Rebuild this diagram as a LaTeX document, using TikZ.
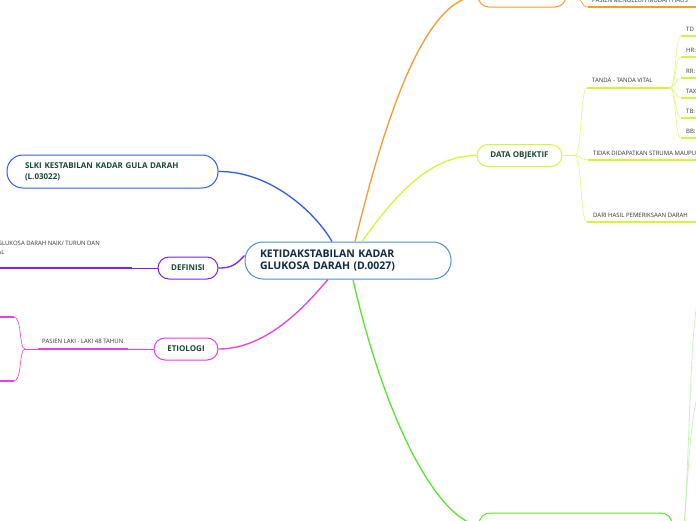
\documentclass[tikz,border=0pt]{standalone}
\usepackage{fontspec}
\setmainfont{Open Sans}
\definecolor{cblue}{HTML}{4A90D9}
\definecolor{navy}{HTML}{0F2A47}
\definecolor{txtgreen}{HTML}{17493A}
\definecolor{txtgrey}{HTML}{333333}
\definecolor{lblue}{HTML}{2F5BE8}
\definecolor{lpurple}{HTML}{7D1FF0}
\definecolor{lmag}{HTML}{EA3DE8}
\definecolor{lyel}{HTML}{D5F53A}
\definecolor{lyelsub}{HTML}{E2F87A}
\definecolor{lorange}{HTML}{F89A2C}
\definecolor{lgreen}{HTML}{58E62A}
\definecolor{lgreenpale}{HTML}{B5F5A5}
\tikzset{
  mainbox/.style={draw=#1, line width=1pt, rounded corners=11pt, fill=white,
    font=\fontsize{8}{11}\selectfont\bfseries, text=txtgreen, minimum height=22pt,
    inner xsep=0pt, inner ysep=0pt},
  conn/.style={draw=#1, line width=1.3pt},
  subl/.style={draw=#1, line width=0.6pt},
  under/.style={draw=#1, line width=2pt},
  small/.style={font=\fontsize{6}{8.4}\selectfont, text=txtgrey, inner sep=0pt, anchor=base west},
}
\begin{document}
\begin{tikzpicture}[x=1pt,y=-1pt]
\useasboundingbox (0,0) rectangle (696,520);
\clip (0,0) rectangle (696,520);
\fill[white] (0,0) rectangle (696,520);

% ---------- nodes ----------
\node[draw=cblue, line width=1pt, rounded corners=18pt, fill=white, minimum height=37pt,
  text width=176pt, inner xsep=15pt, inner ysep=0pt, align=left,
  font=\fontsize{10.5}{12.7}\selectfont\bfseries, text=navy] (c) at (348,260.5)
  {KETIDAKSTABILAN KADAR\\GLUKOSA DARAH (D.0027)};

\node[draw=lblue, line width=1pt, rounded corners=16pt, fill=white, minimum height=33pt,
  text width=175pt, inner xsep=18pt, inner ysep=0pt, align=left,
  font=\fontsize{8}{11}\selectfont\bfseries, text=txtgreen] (slki) at (112.5,171.5)
  {SLKI KESTABILAN KADAR GULA DARAH\\(L.03022)};

\node[mainbox=lpurple, minimum width=60pt] (def) at (188,268) {DEFINISI};
\node[mainbox=lmag, minimum width=64pt] (eti) at (186,349) {ETIOLOGI};
\node[mainbox=lyel, minimum width=85pt] (dobj) at (519.5,155.5) {DATA OBJEKTIF};
\node[mainbox=lorange, minimum width=88pt] (dsub) at (522,-4) {DATA SUBJEKTIF};
\node[mainbox=lgreen, minimum width=193pt, minimum height=26pt] (gbot) at (575.5,526) {};

% ---------- main connectors ----------
\draw[conn=lblue] (slki.east) .. controls (270,171) and (315,212) .. ([xshift=-16pt]c.north);
\draw[conn=lorange] ([xshift=7pt]c.north) .. controls (380,140) and (420,-2) .. (dsub.west);
\draw[conn=lyel] ([xshift=14pt]c.north) .. controls (395,195) and (430,155.5) .. (dobj.west);
\draw[conn=lpurple] (def.east) .. controls (230,268) and (235,266) .. ([yshift=5pt]c.west);
\draw[conn=lmag] (eti.east) .. controls (270,349) and (310,300) .. ([xshift=-20pt]c.south);
\draw[conn=lgreen] ([xshift=5pt]c.south) .. controls (380,400) and (430,515) .. (gbot.west);

% ---------- DATA SUBJEKTIF branch ----------
\coordinate (os) at (588,7);
\draw[subl=lorange] (dsub.east) -- (575,-4) .. controls (581,-4) and (581,7) .. (os);
\draw[under=lorange] (os) -- (700,7);
\node[small] (os1) at (592,2) {PASIEN MENGELUH MUDAH HAUS};

% ---------- DATA OBJEKTIF branch ----------
\coordinate (ob) at (575,155.5);
\coordinate (tv) at (587,88);
\coordinate (tvend) at (670,88);
\coordinate (st) at (588,160);
\coordinate (dh) at (587,222);
\draw[subl=lyelsub] (dobj.east) -- (ob);
\draw[subl=lyelsub] (ob) .. controls (582,155) and (580,88) .. (tv);
\draw[subl=lyelsub] (ob) .. controls (580,156) and (582,160) .. (st);
\draw[subl=lyelsub] (ob) .. controls (582,156) and (580,222) .. (dh);
\draw[under=lyel] (tv) -- (tvend);
\draw[under=lyel] (st) -- (700,160);
\draw[under=lyel] (dh) -- (700,222);
\node[small] (tvt) at (592,82.5) {TANDA - TANDA VITAL};
\node[small] (stt) at (593,155) {TIDAK DIDAPATKAN STRUMA MAUPUN};
\node[small] (dht) at (593,217) {DARI HASIL PEMERIKSAAN DARAH};

\foreach \yy/\lab [count=\i] in {36/TD, 57/HR:, 78/RR:, 98/TAX, 118/TB:, 138/BB:}{
  \coordinate (it\i) at (681,\yy);
  \draw[subl=lyelsub] (tvend) .. controls (676,88) and (675,\yy) .. (it\i);
  \draw[under=lyel] (it\i) -- (700,\yy);
  \node[small] (itt\i) at (686,\yy-5) {\lab};
}

% ---------- DEFINISI branch ----------
\coordinate (dfa) at (132,268);
\draw[subl=lpurple] (def.west) -- (dfa);
\draw[under=lpurple] (dfa) -- (-5,268);
\node[small, align=left, anchor=base west] (dft) at (-2.5,254.3) {GLUKOSA DARAH NAIK/ TURUN DAN\\AL};

% ---------- ETIOLOGI branch ----------
\coordinate (ea) at (128,349);
\coordinate (eb) at (38,349);
\coordinate (ec) at (25,349);
\coordinate (eu) at (14,317);
\coordinate (ed) at (14,381);
\draw[subl=lmag] (eti.west) -- (ea);
\draw[under=lmag] (ea) -- (eb);
\draw[subl=lmag] (eb) -- (ec);
\draw[subl=lmag] (ec) .. controls (19,349) and (22,317) .. (eu);
\draw[subl=lmag] (ec) .. controls (19,349) and (22,381) .. (ed);
\draw[under=lmag] (eu) -- (-5,317);
\draw[under=lmag] (ed) -- (-5,381);
\node[small] (et1) at (42,343.5) {PASIEN LAKI - LAKI 48 TAHUN};

% ---------- green node branches ----------
\coordinate (ga) at (684,526);
\draw[subl=lgreenpale] (gbot.east) -- (ga);
\draw[subl=lgreenpale] (ga) .. controls (689,470) and (690,330) .. (698,300);
\draw[subl=lgreenpale] (ga) .. controls (688,480) and (690,420) .. (698,395);
\end{tikzpicture}
\end{document}
